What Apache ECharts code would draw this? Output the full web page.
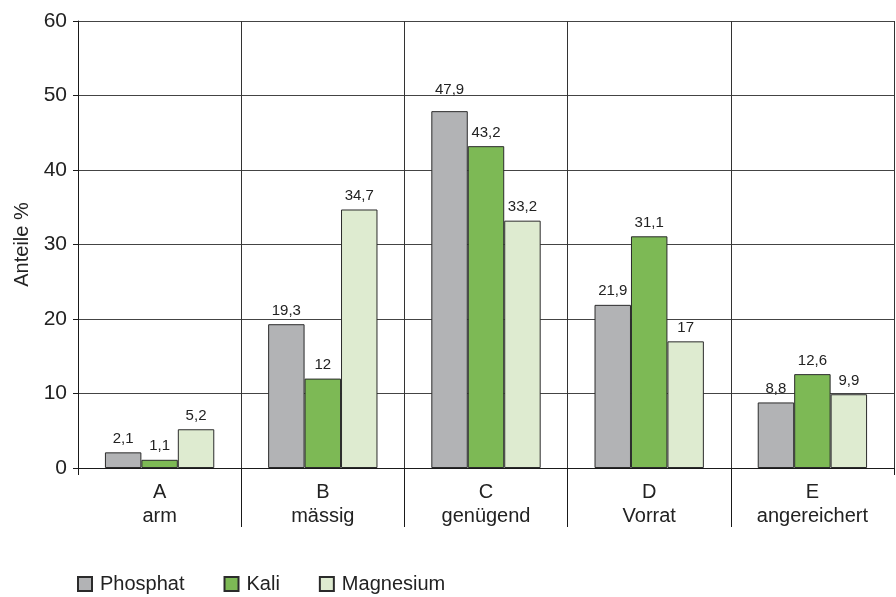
<!DOCTYPE html>
<html>
<head>
<meta charset="utf-8">
<script src="https://cdn.jsdelivr.net/npm/echarts@6/dist/echarts.min.js"></script>
<style>
html,body{margin:0;padding:0;background:#fff;}
#chart{width:896px;height:597px;}
</style>
</head>
<body>
<div id="chart"></div>
<script>
// Nährstoffversorgung der Böden nach Gehaltsklassen
const categories = ['A\narm', 'B\nmässig', 'C\ngenügend', 'D\nVorrat', 'E\nangereichert'];
const phosphat = [2.1, 19.3, 47.9, 21.9, 8.8];
const kali = [1.1, 12, 43.2, 31.1, 12.6];
const magnesium = [5.2, 34.7, 33.2, 17, 9.9];
const seriesNames = ['Phosphat', 'Kali', 'Magnesium'];
const colors = ['#b2b3b5', '#7db955', '#deebd0'];

const FONT = '"Liberation Sans", Arial, sans-serif';
const fmt = v => String(v).replace('.', ',');

const PLOT_LEFT = 78, PLOT_RIGHT = 2, PLOT_TOP = 21, PLOT_BOTTOM = 129;
const BAND = (896 - PLOT_LEFT - PLOT_RIGHT) / categories.length;

function makeSeries(name, values, color, raised) {
  return {
    name: name,
    type: 'bar',
    xAxisIndex: 0,
    yAxisIndex: 0,
    // the tallest label sits a little higher so it clears the 50 grid line
    data: values.map((v, i) => i === raised ? { value: v, label: { distance: 14 } } : v),
    barGap: '0%',
    barCategoryGap: '33%',
    itemStyle: { color: color, borderColor: '#2b2b2b', borderWidth: 1 },
    label: {
      show: true,
      position: 'top',
      distance: 6,
      fontFamily: FONT,
      fontSize: 15,
      color: '#222',
      formatter: p => fmt(p.value)
    }
  };
}

const chart = echarts.init(document.getElementById('chart'));
chart.setOption({
  backgroundColor: '#fff',
  animation: false,
  color: colors,
  grid: [
    { left: PLOT_LEFT, right: PLOT_RIGHT, top: PLOT_TOP, bottom: PLOT_BOTTOM, containLabel: false },
    // helper grid carrying the long separators between category labels
    { left: PLOT_LEFT, right: PLOT_RIGHT + BAND, top: PLOT_TOP, bottom: PLOT_BOTTOM, containLabel: false }
  ],
  legend: {
    left: 77,
    top: 574,
    padding: 0,
    icon: 'rect',
    itemWidth: 14,
    itemHeight: 14,
    itemGap: 39,
    textStyle: { fontFamily: FONT, fontSize: 20, color: '#222', padding: [0, 0, 0, 3] },
    data: seriesNames
  },
  xAxis: [
    {
      type: 'category',
      gridIndex: 0,
      data: categories,
      axisLine: { lineStyle: { color: '#1a1a1a', width: 1 } },
      axisTick: { show: true, length: 7, lineStyle: { color: '#1a1a1a' } },
      splitLine: { show: true, lineStyle: { color: '#333', width: 1 } },
      axisLabel: {
        fontFamily: FONT, fontSize: 20, color: '#222', margin: 12, lineHeight: 24
      }
    },
    {
      type: 'category',
      gridIndex: 1,
      data: categories.slice(0, -1),
      position: 'bottom',
      axisLine: { show: false },
      axisTick: {
        show: true, length: 59, lineStyle: { color: '#1a1a1a' },
        interval: (idx) => idx !== 0
      },
      axisLabel: { show: false },
      splitLine: { show: false }
    }
  ],
  yAxis: [
    {
      type: 'value',
      gridIndex: 0,
      min: 0,
      max: 60,
      interval: 10,
      name: 'Anteile %',
      nameLocation: 'middle',
      nameGap: 44,
      nameTextStyle: { fontFamily: FONT, fontSize: 20, color: '#222' },
      axisLine: { show: true, lineStyle: { color: '#1a1a1a' } },
      axisTick: { show: true, length: 5, lineStyle: { color: '#1a1a1a' } },
      axisLabel: { fontFamily: FONT, fontSize: 21, color: '#222', margin: 11 },
      splitLine: { show: true, lineStyle: { color: '#444', width: 1 } }
    },
    {
      type: 'value',
      gridIndex: 1,
      min: 0,
      max: 60,
      show: false
    }
  ],
  series: [
    makeSeries(seriesNames[0], phosphat, colors[0], 2),
    makeSeries(seriesNames[1], kali, colors[1], -1),
    makeSeries(seriesNames[2], magnesium, colors[2], -1)
  ]
});
</script>
</body>
</html>
